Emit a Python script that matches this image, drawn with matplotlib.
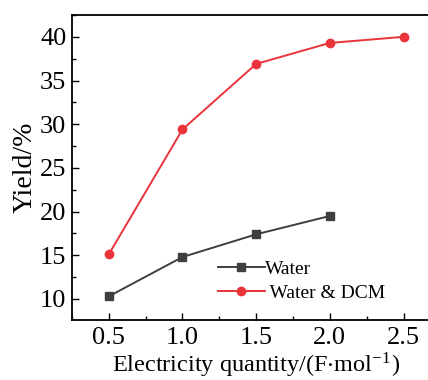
import matplotlib

matplotlib.use("Agg")
import matplotlib.pyplot as plt
from matplotlib.ticker import MultipleLocator

plt.rcParams["font.family"] = ["Liberation Serif", "DejaVu Serif"]
plt.rcParams["mathtext.fontset"] = "stix"

# data
q_water = [0.5, 1.0, 1.5, 2.0]
y_water = [10.3, 14.8, 17.4, 19.5]
q_dcm = [0.5, 1.0, 1.5, 2.0, 2.5]
y_dcm = [15.1, 29.4, 36.9, 39.3, 40.0]

fig = plt.figure(figsize=(4.28, 3.8), dpi=100)
# right spine falls outside the picture in the reference
ax = fig.add_axes([0.168, 0.158, 0.861, 0.8026])

ax.plot(q_water, y_water, color="#3f3f3f", marker="s", markersize=5.5,
        linewidth=1.4, label="Water")
ax.plot(q_dcm, y_dcm, color="#e8343a", marker="o", markersize=6,
        linewidth=1.4, label=" Water & DCM")

ax.set_xlim(0.25, 2.75)
ax.set_ylim(7.6, 42.5)
ax.xaxis.set_major_locator(MultipleLocator(0.5))
ax.xaxis.set_minor_locator(MultipleLocator(0.25))
ax.yaxis.set_major_locator(MultipleLocator(5))
ax.yaxis.set_minor_locator(MultipleLocator(2.5))
ax.tick_params(which="both", direction="in", labelsize=19, width=1.0)
ax.tick_params(which="major", length=5)
ax.tick_params(which="minor", length=3)
ax.tick_params(axis="x", pad=5)
ax.tick_params(axis="y", pad=4)
for s in ax.spines.values():
    s.set_linewidth(1.3)

ax.set_xlabel("Electricity quantity/(F$\\cdot$mol$^{\\mathregular{-1}}$)",
              fontsize=17.5, labelpad=1)
ax.set_ylabel("Yield/%", fontsize=20, labelpad=2)

ax.legend(loc="lower left", bbox_to_anchor=(0.375, 0.035), frameon=False,
          fontsize=14, handlelength=2.4, handletextpad=0.0,
          labelspacing=0.3, borderaxespad=0)

fig.savefig("out.png", dpi=100)
